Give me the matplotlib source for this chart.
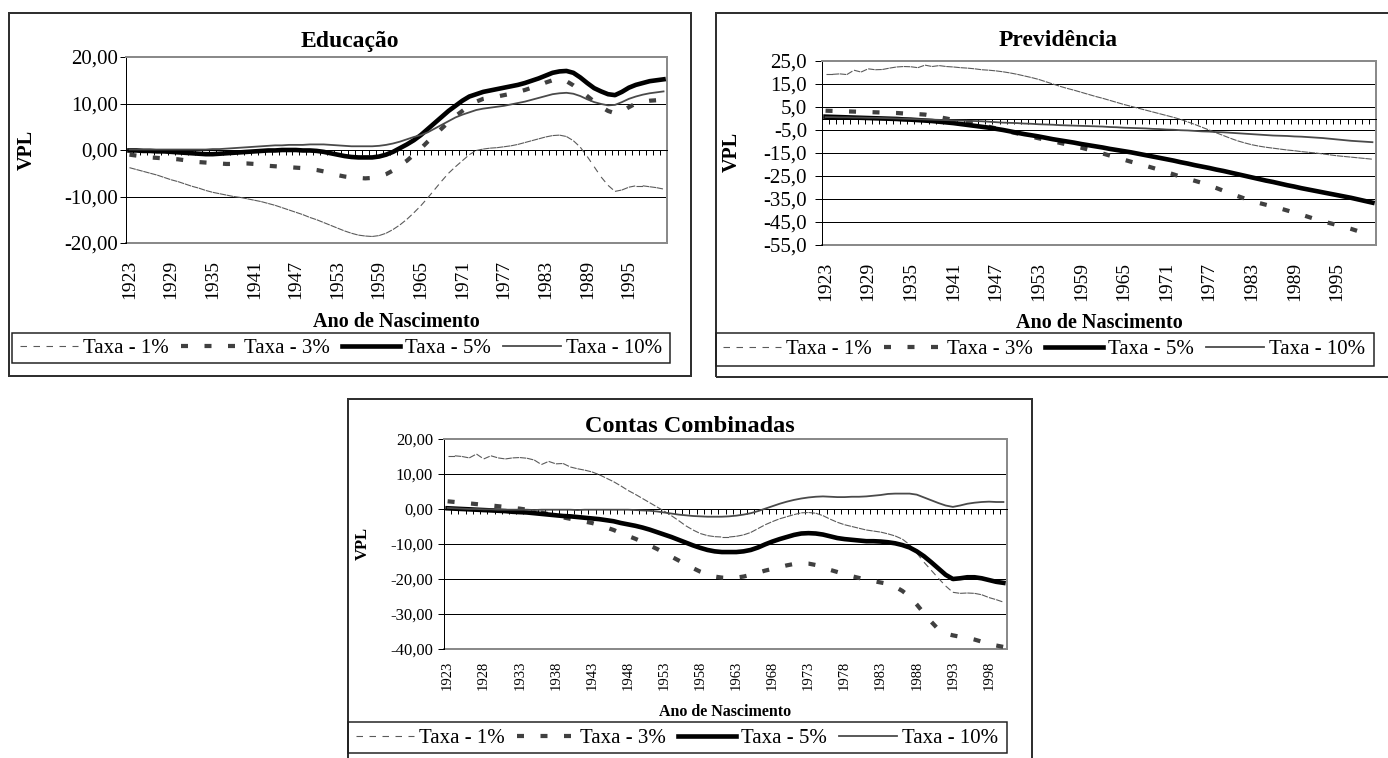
import numpy as np
import matplotlib.pyplot as plt
from matplotlib.collections import LineCollection
from matplotlib.lines import Line2D
from matplotlib.patches import Rectangle

plt.rcParams['font.family'] = ['Liberation Serif', 'DejaVu Serif']
plt.rcParams['lines.scale_dashes'] = False

# Dados: VPL por ano de nascimento, para cada taxa de desconto
anos = list(range(1923, 2001))
legendas = ['Taxa - 1%', 'Taxa - 3%', 'Taxa - 5%', 'Taxa - 10%']

edu_1 = [-3.8, -4.2, -4.6, -5.0, -5.4, -5.9, -6.4, -6.8, -7.3, -7.8,
         -8.2, -8.7, -9.1, -9.4, -9.7, -10.0, -10.2, -10.5, -10.8, -11.1,
         -11.5, -11.9, -12.4, -12.9, -13.4, -13.9, -14.5, -15.0, -15.6, -16.2,
         -16.8, -17.4, -17.9, -18.3, -18.5, -18.6, -18.4, -17.9, -17.1, -16.1,
         -14.9, -13.5, -12.0, -10.3, -8.5, -6.7, -5.0, -3.6, -2.3, -1.0,
         -0.1, 0.2, 0.4, 0.5, 0.7, 0.9, 1.2, 1.6, 2.0, 2.4,
         2.8, 3.1, 3.2, 2.9, 2.0, 0.6, -1.4, -3.6, -5.8, -7.6,
         -8.9, -8.6, -8.0, -7.7, -7.7, -7.9, -8.1, -8.4]
edu_3 = [-1.0, -1.2, -1.4, -1.6, -1.7, -1.8, -1.9, -2.0, -2.2, -2.4,
         -2.6, -2.7, -2.8, -2.9, -3.0, -3.0, -2.9, -2.9, -3.0, -3.2,
         -3.4, -3.5, -3.6, -3.7, -3.8, -3.9, -4.1, -4.3, -4.6, -5.0,
         -5.4, -5.7, -5.9, -6.0, -6.1, -6.0, -5.7, -5.2, -4.4, -3.3,
         -2.3, -1.0, 0.3, 1.8, 3.2, 4.6, 6.0, 7.3, 8.4, 9.5,
         10.4, 11.0, 11.3, 11.5, 11.8, 12.1, 12.5, 12.9, 13.4, 13.9,
         14.5, 15.0, 15.2, 14.8, 13.9, 12.8, 11.6, 10.4, 9.3, 8.4,
         7.9, 8.3, 9.2, 10.0, 10.4, 10.6, 10.7, 10.8]
edu_5 = [-0.1, -0.1, -0.2, -0.2, -0.3, -0.3, -0.4, -0.5, -0.6, -0.7,
         -0.8, -0.9, -0.9, -0.8, -0.7, -0.6, -0.5, -0.4, -0.3, -0.2,
         -0.1, -0.1, 0.0, 0.0, 0.0, -0.1, -0.1, -0.2, -0.4, -0.7,
         -1.0, -1.3, -1.5, -1.6, -1.6, -1.6, -1.4, -1.0, -0.4, 0.4,
         1.2, 2.1, 3.2, 4.5, 5.8, 7.1, 8.4, 9.5, 10.6, 11.5,
         12.0, 12.5, 12.8, 13.1, 13.4, 13.7, 14.0, 14.4, 14.9, 15.4,
         16.0, 16.6, 16.9, 17.0, 16.6, 15.6, 14.4, 13.3, 12.6, 12.0,
         11.8, 12.5, 13.4, 14.0, 14.4, 14.8, 15.0, 15.2]
edu_10 = [0.1, 0.1, 0.1, 0.1, 0.1, 0.1, 0.1, 0.1, 0.1, 0.1,
          0.1, 0.1, 0.2, 0.2, 0.3, 0.4, 0.5, 0.6, 0.7, 0.8,
          0.9, 1.0, 1.0, 1.1, 1.1, 1.1, 1.2, 1.2, 1.2, 1.1,
          1.0, 0.9, 0.8, 0.8, 0.8, 0.8, 0.9, 1.1, 1.4, 1.8,
          2.3, 2.8, 3.2, 3.8, 4.6, 5.4, 6.2, 7.0, 7.6, 8.1,
          8.6, 8.9, 9.1, 9.3, 9.5, 9.8, 10.1, 10.4, 10.8, 11.2,
          11.6, 12.0, 12.2, 12.3, 12.1, 11.6, 10.9, 10.3, 9.9, 9.6,
          9.7, 10.3, 11.0, 11.5, 11.9, 12.2, 12.4, 12.6]

prev_1 = [19.2, 19.2, 19.4, 19.1, 21.0, 20.2, 21.6, 21.2, 21.3, 21.9,
          22.4, 22.6, 22.5, 22.1, 23.2, 22.6, 23.0, 22.6, 22.4, 22.1,
          21.9, 21.6, 21.2, 21.0, 20.7, 20.3, 19.8, 19.2, 18.5, 17.8,
          17.0, 16.0, 15.0, 14.0, 13.1, 12.3, 11.4, 10.5, 9.6, 8.8,
          7.9, 7.0, 6.1, 5.3, 4.5, 3.7, 2.9, 2.1, 1.3, 0.5,
          -0.4, -1.5, -2.6, -3.8, -5.0, -6.2, -7.4, -8.6, -9.7, -10.6,
          -11.4, -12.0, -12.5, -12.9, -13.3, -13.7, -14.0, -14.4, -14.7, -15.0,
          -15.4, -15.8, -16.2, -16.5, -16.8, -17.1, -17.4, -17.7]
prev_3 = [3.4, 3.3, 3.2, 3.1, 3.0, 2.9, 2.8, 2.7, 2.6, 2.5,
          2.4, 2.2, 2.1, 1.9, 1.7, 1.2, 0.6, 0.0, -0.6, -1.1,
          -1.6, -2.3, -3.0, -3.6, -4.3, -5.0, -5.8, -6.5, -7.2, -7.9,
          -8.6, -9.3, -9.9, -10.6, -11.3, -12.0, -12.7, -13.5, -14.3, -15.2,
          -16.1, -17.0, -17.9, -18.8, -19.6, -20.5, -21.4, -22.3, -23.3, -24.3,
          -25.3, -26.2, -27.1, -28.0, -29.1, -30.2, -31.4, -32.6, -33.7, -34.8,
          -35.8, -36.7, -37.5, -38.3, -39.1, -40.0, -40.9, -41.8, -42.8, -43.8,
          -44.7, -45.5, -46.3, -47.1, -48.0, -49.0, -50.0, -50.8]
prev_5 = [0.8, 0.7, 0.6, 0.5, 0.4, 0.3, 0.2, 0.1, 0.0, -0.1,
          -0.2, -0.4, -0.5, -0.7, -0.9, -1.1, -1.4, -1.7, -2.0, -2.4,
          -2.8, -3.2, -3.6, -4.0, -4.5, -5.0, -5.6, -6.2, -6.8, -7.3,
          -7.8, -8.4, -9.0, -9.5, -10.0, -10.5, -11.1, -11.6, -12.1, -12.6,
          -13.2, -13.7, -14.2, -14.7, -15.3, -15.9, -16.5, -17.1, -17.7, -18.3,
          -19.0, -19.6, -20.3, -20.9, -21.5, -22.2, -22.8, -23.5, -24.2, -24.9,
          -25.6, -26.3, -27.0, -27.6, -28.3, -29.0, -29.6, -30.3, -30.9, -31.5,
          -32.1, -32.7, -33.3, -33.9, -34.5, -35.2, -35.9, -36.6]
prev_10 = [0.6, 0.6, 0.5, 0.5, 0.4, 0.4, 0.3, 0.3, 0.2, 0.1,
           0.0, -0.1, -0.2, -0.3, -0.4, -0.5, -0.6, -0.7, -0.8, -0.9,
           -1.0, -1.1, -1.2, -1.4, -1.6, -1.8, -1.9, -2.0, -2.2, -2.3,
           -2.5, -2.6, -2.7, -2.9, -3.0, -3.1, -3.2, -3.3, -3.4, -3.5,
           -3.7, -3.8, -4.0, -4.1, -4.2, -4.3, -4.5, -4.6, -4.8, -4.9,
           -5.1, -5.2, -5.4, -5.6, -5.7, -5.9, -6.0, -6.2, -6.4, -6.6,
           -6.8, -7.0, -7.2, -7.4, -7.5, -7.6, -7.8, -7.9, -8.1, -8.3,
           -8.5, -8.8, -9.1, -9.4, -9.7, -9.9, -10.1, -10.3]

cc_1 = [15.2, 15.2, 15.0, 14.6, 15.7, 14.3, 15.2, 14.6, 14.3, 14.6,
        14.7, 14.5, 14.0, 12.7, 13.6, 12.9, 13.0, 12.0, 11.5, 11.1,
        10.6, 9.8, 8.8, 7.8, 6.6, 5.3, 4.2, 3.0, 1.8, 0.6,
        -0.6, -1.9, -3.3, -4.8, -6.0, -7.0, -7.6, -7.9, -8.0, -8.0,
        -7.8, -7.4, -6.7, -5.6, -4.5, -3.6, -2.8, -2.2, -1.6, -1.1,
        -1.0, -1.2, -1.9, -2.9, -3.8, -4.5, -5.0, -5.5, -6.0, -6.3,
        -6.6, -7.1, -7.7, -8.6, -10.2, -12.6, -15.2, -17.5, -19.8, -22.0,
        -23.8, -24.1, -24.0, -24.1, -24.5, -25.3, -25.9, -26.6]
cc_3 = [2.2, 2.0, 1.8, 1.6, 1.4, 1.2, 1.0, 0.8, 0.6, 0.3,
        0.1, -0.2, -0.6, -1.0, -1.5, -2.0, -2.4, -2.8, -3.2, -3.6,
        -4.0, -4.6, -5.3, -6.0, -6.9, -7.7, -8.5, -9.4, -10.4, -11.4,
        -12.5, -13.6, -14.7, -15.8, -16.9, -17.9, -18.7, -19.3, -19.6, -19.7,
        -19.6, -19.3, -18.8, -18.2, -17.6, -17.1, -16.6, -16.1, -15.7, -15.5,
        -15.6, -16.0, -16.7, -17.4, -18.0, -18.6, -19.2, -19.7, -20.2, -20.6,
        -21.0, -21.4, -22.2, -23.4, -25.0, -27.3, -29.8, -32.2, -34.4, -35.6,
        -36.1, -36.5, -36.8, -37.3, -37.9, -38.5, -39.0, -39.4]
cc_5 = [0.2, 0.1, 0.0, -0.1, -0.2, -0.3, -0.4, -0.5, -0.6, -0.8,
        -0.9, -1.0, -1.2, -1.4, -1.6, -1.8, -2.0, -2.1, -2.3, -2.5,
        -2.7, -2.9, -3.2, -3.5, -4.0, -4.4, -4.8, -5.3, -5.9, -6.6,
        -7.3, -8.0, -8.8, -9.6, -10.4, -11.1, -11.7, -12.1, -12.3, -12.3,
        -12.3, -12.1, -11.7, -11.0, -10.1, -9.3, -8.6, -8.0, -7.4, -7.0,
        -6.9, -7.0, -7.3, -7.8, -8.3, -8.6, -8.8, -9.0, -9.2, -9.2,
        -9.3, -9.5, -9.8, -10.3, -11.0, -12.1, -13.5, -15.2, -17.0, -18.8,
        -20.0, -19.8, -19.5, -19.5, -19.8, -20.3, -20.8, -21.1]
cc_10 = [0.3, 0.2, 0.1, 0.0, 0.0, -0.1, -0.1, -0.2, -0.2, -0.2,
         -0.2, -0.2, -0.3, -0.2, -0.2, -0.2, -0.2, -0.2, -0.3, -0.2,
         -0.2, -0.2, -0.2, -0.2, -0.2, -0.2, -0.3, -0.4, -0.5, -0.7,
         -1.0, -1.3, -1.6, -1.8, -2.0, -2.1, -2.2, -2.2, -2.2, -2.1,
         -1.9, -1.6, -1.2, -0.6, 0.1, 0.8, 1.5, 2.1, 2.6, 3.0,
         3.3, 3.5, 3.6, 3.5, 3.4, 3.4, 3.5, 3.5, 3.6, 3.8,
         4.0, 4.3, 4.4, 4.4, 4.4, 4.1, 3.3, 2.5, 1.7, 1.0,
         0.6, 1.0, 1.5, 1.8, 2.0, 2.1, 2.0, 2.0]

edu_yticks = [-20, -10, 0, 10, 20]
edu_ylabels = ['-20,00', '-10,00', '0,00', '10,00', '20,00']
prev_yticks = [-55, -45, -35, -25, -15, -5, 5, 15, 25]
prev_ylabels = ['-55,0', '-45,0', '-35,0', '-25,0', '-15,0', '-5,0', '5,0', '15,0', '25,0']
cc_yticks = [-40, -30, -20, -10, 0, 10, 20]
cc_ylabels = ['-40,00', '-30,00', '-20,00', '-10,00', '0,00', '10,00', '20,00']

W, H = 1388, 758
PX = 0.72  # points per pixel at 100 dpi
fig = plt.figure(figsize=(W / 100, H / 100), dpi=100)
fig.patch.set_facecolor('white')

# estilos das quatro séries
st_1 = dict(color='#5a5a5a', lw=1.1 * PX, ls=(0, (6.5 * PX, 6.5 * PX)))
st_3 = dict(color='#404040', lw=4.2 * PX, ls=(0, (7 * PX, 16.5 * PX)))
st_5 = dict(color='black', lw=4.6 * PX, ls='-')
st_10 = dict(color='#4a4a4a', lw=1.8 * PX, ls='-')


def rect_px(l, t, r, b):
    return [l / W, 1 - b / H, (r - l) / W, (b - t) / H]


def caixa(l, t, r, b, lw=2.0, color='#303030'):
    fig.patches.append(Rectangle((l / W, 1 - b / H), (r - l) / W, (b - t) / H,
                                 transform=fig.transFigure, fill=False,
                                 edgecolor=color, linewidth=lw * PX, zorder=0))


def texto(x, y, s, **kw):
    fig.text(x / W, 1 - y / H, s, ha='center', va='center', **kw)


def painel(area, s1, s3, s5, s10, yticks, ylabels, passo,
           fs_y, fs_x, ytick_len, ytick_pad, xpad):
    ax = fig.add_axes(rect_px(*area))
    x = np.arange(len(anos))
    ax.set_xlim(-0.5, len(anos) - 0.5)
    ax.set_ylim(yticks[0], yticks[-1])
    ax.set_facecolor('white')

    ax.set_yticks(yticks, labels=ylabels)
    ax.tick_params(axis='y', direction='out', length=ytick_len * PX,
                   width=1 * PX, pad=ytick_pad * PX, labelsize=fs_y)
    ax.yaxis.grid(True, color='black', lw=1 * PX)
    ax.set_axisbelow(True)

    # eixo das categorias cruzando em zero, com marcas a cada ano
    ax.spines['bottom'].set_position(('data', 0))
    ax.spines['bottom'].set_linewidth(1 * PX)
    ax.set_xticks(np.arange(len(anos) + 1) - 0.5)
    ax.tick_params(axis='x', direction='out', length=5 * PX, width=1 * PX,
                   labelbottom=False)
    ax.spines['left'].set_linewidth(1 * PX)
    for lado in ('top', 'right'):
        ax.spines[lado].set_color('#8a8a8a')
        ax.spines[lado].set_linewidth(2 * PX)

    # rótulos dos anos na base da área de plotagem
    sec = ax.secondary_xaxis('bottom')
    sec.set_ticks(x[::passo], labels=[str(a) for a in anos[::passo]],
                  rotation=90, fontsize=fs_x)
    sec.tick_params(length=0, pad=xpad * PX)
    sec.spines['bottom'].set_color('#8a8a8a')
    sec.spines['bottom'].set_linewidth(2 * PX)

    pts = np.column_stack([x, s1])
    segs = [pts[k:k + 2] for k in range(len(pts) - 1)]
    ax.add_collection(LineCollection(segs, colors=st_1['color'],
                                     linewidths=st_1['lw'],
                                     linestyles=[st_1['ls']], zorder=3))
    ax.plot(x, s3, color=st_3['color'], lw=st_3['lw'], ls=st_3['ls'],
            dash_capstyle='butt', zorder=4)
    ax.plot(x, s5, color=st_5['color'], lw=st_5['lw'], zorder=5,
            solid_joinstyle='round')
    ax.plot(x, s10, color=st_10['color'], lw=st_10['lw'], zorder=6)
    return ax


def legenda(cx, cy, caixa_leg):
    hs = [Line2D([], [], color=s['color'], lw=s['lw'], ls=s['ls'],
                 dash_capstyle='butt')
          for s in (st_1, st_3, st_5, st_10)]
    fs_px = 15 / PX
    fig.legend(hs, legendas, loc='center', bbox_to_anchor=(cx / W, 1 - cy / H),
               ncol=4, frameon=False, fontsize=15, handlelength=58 / fs_px,
               handletextpad=5 / fs_px, columnspacing=12 / fs_px,
               borderpad=0, borderaxespad=0)
    caixa(*caixa_leg, lw=1.5, color='#202020')


# Educação
caixa(9, 13, 691, 376)
painel((126, 57, 667, 243), edu_1, edu_3, edu_5, edu_10,
       edu_yticks, edu_ylabels, 6, 15, 14, 6, 2, 17)
texto(350, 41, 'Educação', fontsize=17, fontweight='bold')
texto(27, 150, 'VPL', fontsize=14.5, fontweight='bold', rotation=90)
texto(396, 322, 'Ano de Nascimento', fontsize=14.5, fontweight='bold')
legenda(341, 348, (12, 333, 670, 363))

# Previdência
caixa(716, 13, 1420, 377)
painel((822, 61, 1376, 245), prev_1, prev_3, prev_5, prev_10,
       prev_yticks, prev_ylabels, 6, 15, 14, 7, 8, 17)
texto(1058, 41, 'Previdência', fontsize=17, fontweight='bold')
texto(732, 152, 'VPL', fontsize=14.5, fontweight='bold', rotation=90)
texto(1099, 323, 'Ano de Nascimento', fontsize=14.5, fontweight='bold')
legenda(1044, 349, (716, 333, 1374, 366))

# Contas Combinadas
caixa(348, 399, 1032, 790)
painel((444, 439, 1007, 649), cc_1, cc_3, cc_5, cc_10,
       cc_yticks, cc_ylabels, 5, 12, 10.5, 6, 5, 12)
texto(690, 427, 'Contas Combinadas', fontsize=17.5, fontweight='bold')
texto(363, 543, 'VPL', fontsize=12, fontweight='bold', rotation=90)
texto(725, 712, 'Ano de Nascimento', fontsize=11.5, fontweight='bold')
legenda(677, 738, (348, 722, 1007, 753))

fig.savefig('out.png', dpi=100, facecolor='white')
